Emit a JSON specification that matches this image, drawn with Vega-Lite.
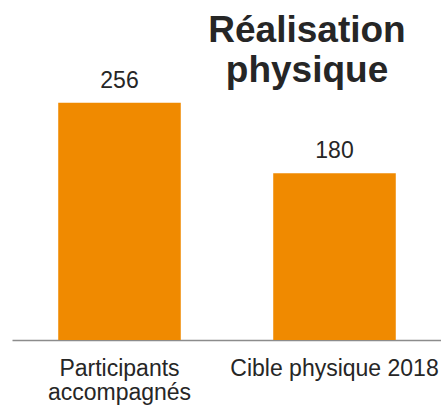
{
  "$schema": "https://vega.github.io/schema/vega-lite/v6.json",
  "width": 430,
  "height": 340,
  "autosize": {"type": "none"},
  "padding": {"left": 12, "top": 0, "right": 0, "bottom": 66},
  "background": "white",
  "title": {
    "text": ["Réalisation", "physique"],
    "font": "Liberation Sans",
    "fontSize": 37,
    "fontWeight": "bold",
    "color": "#262626",
    "anchor": "middle",
    "frame": "group",
    "dx": 80,
    "lineHeight": 40,
    "offset": -90
  },
  "data": {
    "values": [
      {"categorie": "Participants accompagnés", "valeur": 256},
      {"categorie": "Cible physique 2018", "valeur": 180}
    ]
  },
  "encoding": {
    "x": {
      "field": "categorie",
      "type": "nominal",
      "sort": null,
      "scale": {"paddingInner": 0.43, "paddingOuter": 0.215},
      "axis": {
        "title": null,
        "labelAngle": 0,
        "ticks": false,
        "domainColor": "#8c8c8c",
        "domainWidth": 1.5,
        "labelFont": "Liberation Sans",
        "labelFontSize": 23,
        "labelColor": "#262626",
        "labelPadding": 17,
        "labelLineHeight": 24,
        "labelLimit": 0,
        "labelExpr": "datum.value == 'Participants accompagnés' ? ['Participants', 'accompagnés'] : datum.value"
      }
    },
    "y": {
      "field": "valeur",
      "type": "quantitative",
      "scale": {"domain": [0, 367]},
      "axis": null
    }
  },
  "layer": [
    {"mark": {"type": "bar", "color": "#F08A00"}},
    {
      "mark": {"type": "text", "baseline": "alphabetic", "dy": -15, "fontSize": 23, "font": "Liberation Sans", "color": "#262626"},
      "encoding": {"text": {"field": "valeur", "type": "quantitative"}}
    }
  ],
  "config": {"view": {"stroke": null}}
}
